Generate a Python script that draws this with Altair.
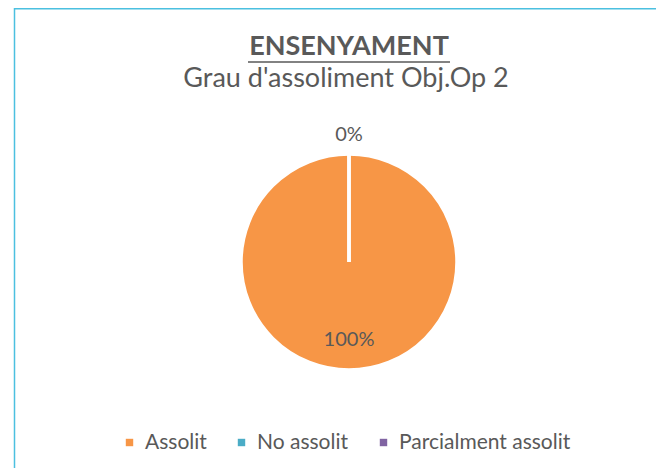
import altair as alt
import pandas as pd

categories = ["Assolit", "No assolit", "Parcialment assolit"]
values = [100, 0, 0]
pct_labels = ["100%", "0%", "0%"]
colors = ["#F79646", "#4BACC6", "#8064A2"]
title_text = "ENSENYAMENT"
subtitle_text = "Grau d'assoliment Obj.Op 2"

df = pd.DataFrame({"cat": categories, "val": values, "lab": pct_labels, "idx": list(range(len(categories)))})

W, H = 648, 460
CX, CY = 341, 254
FONT = "Lato"
TXT = "#595959"

color = alt.Color(
    "cat:N",
    scale=alt.Scale(domain=categories, range=colors),
    sort=categories,
    legend=alt.Legend(
        title=None, orient="none", direction="horizontal",
        legendX=111, legendY=424, symbolType="square", symbolSize=55,
        symbolStrokeWidth=0, labelFont=FONT, labelFontSize=21, labelColor=TXT,
        columnPadding=24, labelOffset=5, labelLimit=400, gridAlign="none",
    ),
)

base = alt.Chart(df)

pie = base.mark_arc(outerRadius=108, stroke="white", strokeWidth=3.5).encode(
    theta=alt.Theta("val:Q", stack=True),
    color=color,
    order=alt.Order("idx:Q"),
    x=alt.value(CX), y=alt.value(CY),
)

lab_in = base.transform_filter(alt.datum.cat == "Assolit").mark_text(
    radius=78, font=FONT, fontSize=20, color=TXT
).encode(
    theta=alt.Theta("val:Q", stack=True), text="lab:N",
    x=alt.value(CX), y=alt.value(CY),
)

lab_out = base.transform_filter(alt.datum.cat == "No assolit").mark_text(
    radius=127, font=FONT, fontSize=20, color=TXT
).encode(
    theta=alt.Theta("val:Q", stack=True), text="lab:N",
    x=alt.value(CX), y=alt.value(CY),
)

border = alt.Chart(pd.DataFrame({"a": [0]})).mark_rect(
    fillOpacity=0, stroke="#4BC0E0", strokeWidth=1.5
).encode(x=alt.value(6.5), x2=alt.value(W + 20), y=alt.value(0.75), y2=alt.value(H + 20))

title = alt.Chart(pd.DataFrame({"t": [title_text]})).mark_text(
    font=FONT, fontSize=27, fontWeight="bold", color=TXT, baseline="alphabetic"
).encode(text="t:N", x=alt.value(341), y=alt.value(47))

underline = alt.Chart(pd.DataFrame({"a": [0]})).mark_rule(color=TXT, strokeWidth=1.5).encode(
    x=alt.value(240), x2=alt.value(442), y=alt.value(54)
)

subtitle = alt.Chart(pd.DataFrame({"t": [subtitle_text]})).mark_text(
    font=FONT, fontSize=27, color=TXT, baseline="alphabetic"
).encode(text="t:N", x=alt.value(338), y=alt.value(79))

chart = alt.layer(border, pie, lab_in, lab_out, title, underline, subtitle).properties(
    width=W, height=H, autosize=alt.AutoSizeParams(type="none"), padding=0
).configure_view(stroke=None)

chart.save("out.html", embed_options={"renderer": "svg", "actions": False})
